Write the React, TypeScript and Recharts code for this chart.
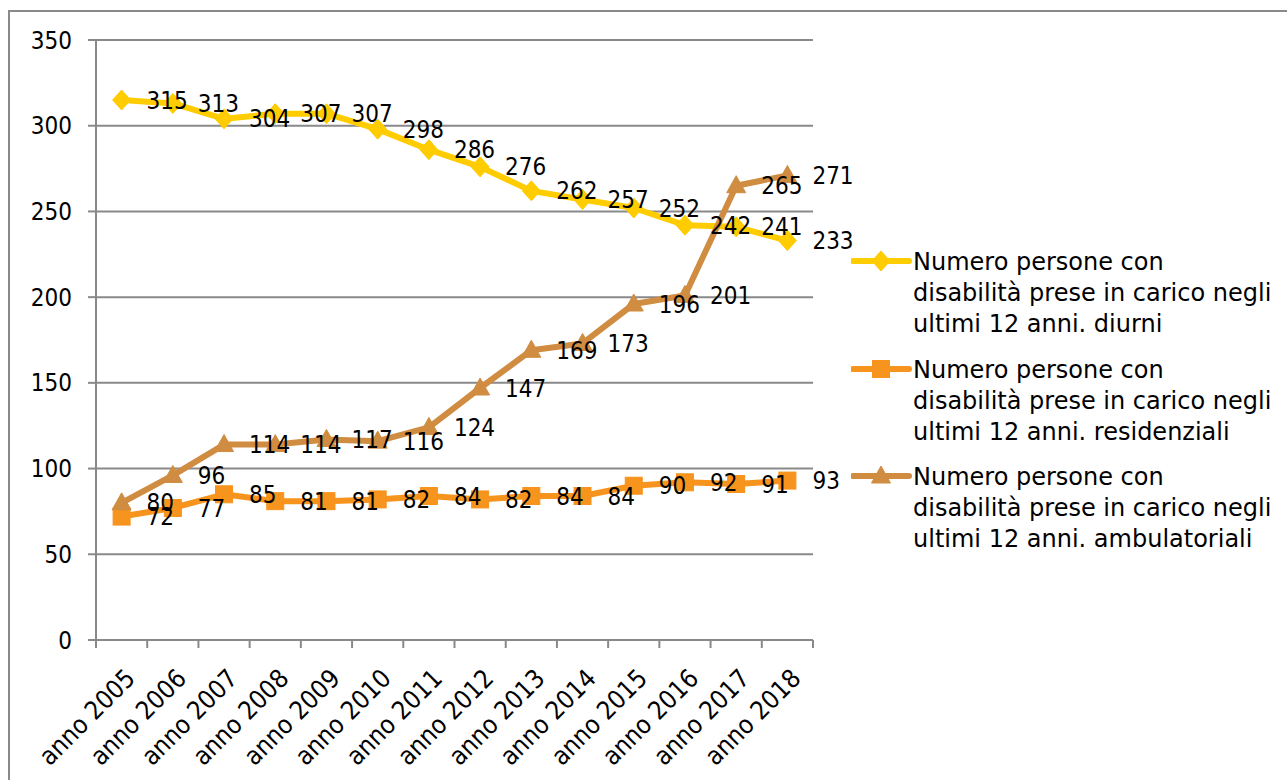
import React from 'react';
import { LineChart, Line, XAxis, YAxis, CartesianGrid } from 'recharts';

const years = ['anno 2005', 'anno 2006', 'anno 2007', 'anno 2008', 'anno 2009', 'anno 2010', 'anno 2011', 'anno 2012', 'anno 2013', 'anno 2014', 'anno 2015', 'anno 2016', 'anno 2017', 'anno 2018'];
const diurni = [315, 313, 304, 307, 307, 298, 286, 276, 262, 257, 252, 242, 241, 233];
const residenziali = [72, 77, 85, 81, 81, 82, 84, 82, 84, 84, 90, 92, 91, 93];
const ambulatoriali = [80, 96, 114, 114, 117, 116, 124, 147, 169, 173, 196, 201, 265, 271];
const yTicks = [0, 50, 100, 150, 200, 250, 300, 350];

const seriesNames = [
  ['Numero persone con', 'disabilità prese in carico negli', 'ultimi 12 anni. diurni'],
  ['Numero persone con', 'disabilità prese in carico negli', 'ultimi 12 anni. residenziali'],
  ['Numero persone con', 'disabilità prese in carico negli', 'ultimi 12 anni. ambulatoriali'],
];

const data = years.map((y, i) => ({
  year: y,
  diurni: diurni[i],
  residenziali: residenziali[i],
  ambulatoriali: ambulatoriali[i],
}));

const C_YELLOW = '#FFCC00';
const C_ORANGE = '#F7941D';
const C_BROWN = '#D08C40';
const GRID = '#898989';
const FONT = '"DejaVu Sans", Verdana, sans-serif';
const NUM_FONT = '"DejaVu Sans Condensed", "DejaVu Sans", sans-serif';
const NUM_SIZE = 24;

const PLOT_W = 717;
const HALF_BAND = PLOT_W / years.length / 2;

type Shape = 'diamond' | 'square' | 'triangle';

const markerEl = (shape: Shape, cx: number, cy: number, color: string, key?: any) => {
  if (shape === 'diamond') {
    return <polygon key={key} points={`${cx},${cy - 10} ${cx + 9},${cy} ${cx},${cy + 10} ${cx - 9},${cy}`} fill={color} stroke={color} strokeWidth={1} strokeLinejoin="round" />;
  }
  if (shape === 'square') {
    return <rect key={key} x={cx - 8.5} y={cy - 8.5} width={17} height={17} fill={color} stroke={color} strokeWidth={1} />;
  }
  return <polygon key={key} points={`${cx},${cy - 10} ${cx + 9.5},${cy + 7} ${cx - 9.5},${cy + 7}`} fill={color} stroke={color} strokeWidth={1} strokeLinejoin="round" />;
};

const makeDot = (shape: Shape, color: string) => (props: any) => {
  const { cx, cy, index } = props;
  if (cx == null || cy == null) return <g key={`d-${index}`} />;
  return markerEl(shape, cx, cy, color, `d-${shape}-${index}`);
};

const renderLabel = (props: any) => {
  const { x, y, value, index } = props;
  return (
    <text key={`l-${index}`} x={x + 25} y={y} dy={8.5} fontSize={NUM_SIZE} fill="#000" fontFamily={NUM_FONT} textAnchor="start">
      {value}
    </text>
  );
};

const XTick = (props: any) => {
  const { x, y, payload, index } = props;
  const ax = x + 15;
  const ay = y + 40;
  const last = index === years.length - 1;
  return (
    <g>
      <line x1={x - HALF_BAND} y1={y} x2={x - HALF_BAND} y2={y + 8} stroke={GRID} strokeWidth={2} />
      {last && <line x1={x + HALF_BAND} y1={y} x2={x + HALF_BAND} y2={y + 8} stroke={GRID} strokeWidth={2} />}
      <text x={ax} y={ay} transform={`rotate(-45, ${ax}, ${ay})`} textAnchor="end" fontSize={25.5} fill="#000" fontFamily={NUM_FONT}>
        {payload.value}
      </text>
    </g>
  );
};

const legendItems: { color: string; shape: Shape; lines: string[] }[] = [
  { color: C_YELLOW, shape: 'diamond', lines: seriesNames[0] },
  { color: C_ORANGE, shape: 'square', lines: seriesNames[1] },
  { color: C_BROWN, shape: 'triangle', lines: seriesNames[2] },
];

const LegendBox = () => (
  <div style={{ position: 'absolute', left: 851, top: 247, fontFamily: FONT, fontSize: 24, lineHeight: '31px', color: '#000' }}>
    {legendItems.map((it, i) => (
      <div key={i} style={{ display: 'flex', alignItems: 'flex-start', marginBottom: i < 2 ? 14.5 : 0 }}>
        <svg width={62} height={32} style={{ flex: 'none' }}>
          <line x1={2} y1={14} x2={58} y2={14} stroke={it.color} strokeWidth={6} strokeLinecap="round" />
          {markerEl(it.shape, 30, 14, it.color)}
        </svg>
        <div style={{ whiteSpace: 'nowrap' }}>
          {it.lines.map((l, j) => (
            <div key={j}>{l}</div>
          ))}
        </div>
      </div>
    ))}
  </div>
);

export default function App() {
  return (
    <div style={{ position: 'fixed', left: 0, top: 0, width: 1287, height: 780, overflow: 'hidden', background: '#fff', fontFamily: FONT }}>
      <div style={{ position: 'absolute', left: 8, top: 10, width: 1400, height: 900, border: `2px solid ${GRID}` }} />
      <div style={{ position: 'absolute', left: 0, top: 0 }}>
        <LineChart width={1287} height={780} data={data} margin={{ top: 40, right: 474, bottom: 40, left: 26 }}>
          <CartesianGrid horizontal vertical={false} stroke={GRID} strokeWidth={2} />
          <XAxis dataKey="year" height={100} padding={{ left: HALF_BAND, right: HALF_BAND }} axisLine={{ stroke: GRID, strokeWidth: 2 }} tickLine={false} tickSize={0} tickMargin={0} tick={<XTick />} interval={0} />
          <YAxis domain={[0, 350]} ticks={yTicks} width={70} axisLine={{ stroke: GRID, strokeWidth: 2 }} tickLine={{ stroke: GRID, strokeWidth: 2 }} tickSize={8} tickMargin={16} tick={{ fontSize: NUM_SIZE, fill: '#000', fontFamily: NUM_FONT }} interval={0} />
          <Line dataKey="diurni" stroke={C_YELLOW} strokeWidth={6} dot={makeDot('diamond', C_YELLOW)} label={renderLabel} isAnimationActive={false} strokeLinejoin="round" />
          <Line dataKey="residenziali" stroke={C_ORANGE} strokeWidth={6} dot={makeDot('square', C_ORANGE)} label={renderLabel} isAnimationActive={false} strokeLinejoin="round" />
          <Line dataKey="ambulatoriali" stroke={C_BROWN} strokeWidth={6} dot={makeDot('triangle', C_BROWN)} label={renderLabel} isAnimationActive={false} strokeLinejoin="round" />
        </LineChart>
      </div>
      <LegendBox />
    </div>
  );
}
